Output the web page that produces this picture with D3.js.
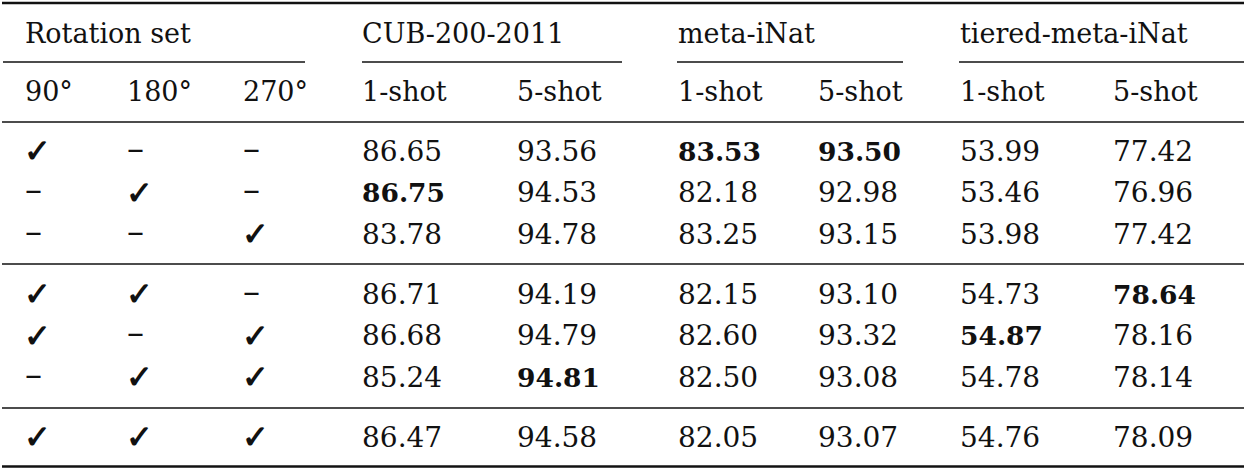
<!DOCTYPE html>
<html>
<head>
<meta charset="utf-8">
<script src="https://cdn.jsdelivr.net/npm/d3@7"></script>
<style>
  body { margin: 0; background: #fff; }
  text { font-family: "DejaVu Serif", serif; fill: #111; }
</style>
</head>
<body>
<div id="table"></div>
<script>
// rotation set per row (1 = used)
const rot90  = [1, 0, 0, 1, 1, 0, 1]
const rot180 = [0, 1, 0, 1, 0, 1, 1]
const rot270 = [0, 0, 1, 0, 1, 1, 1]
const rowGroup = [0, 0, 0, 1, 1, 1, 2]

const datasets = ["CUB-200-2011", "meta-iNat", "tiered-meta-iNat"]
const shots = ["1-shot", "5-shot"]
const angles = ["90°", "180°", "270°"]

const cub1 = [86.65, 86.75, 83.78, 86.71, 86.68, 85.24, 86.47]
const cub5 = [93.56, 94.53, 94.78, 94.19, 94.79, 94.81, 94.58]
const inat1 = [83.53, 82.18, 83.25, 82.15, 82.60, 82.50, 82.05]
const inat5 = [93.50, 92.98, 93.15, 93.10, 93.32, 93.08, 93.07]
const tiered1 = [53.99, 53.46, 53.98, 54.73, 54.87, 54.78, 54.76]
const tiered5 = [77.42, 76.96, 77.42, 78.64, 78.16, 78.14, 78.09]

const width = 1249, height = 473

const svg = d3.select("#table")
    .append("svg")
    .attr("width", width)
    .attr("height", height)

// column left edges
const colKeys = ["r90", "r180", "r270", "cub1", "cub5", "inat1", "inat5", "tiered1", "tiered5"]
const x = d3.scaleOrdinal()
    .domain(colKeys)
    .range([25, 127, 243, 362, 517, 678, 818, 960, 1113])

// row baselines: row index plus a little extra for each group break
const y = d3.scaleLinear()
    .domain([0, 1])
    .range([160.5, 202])

const rowSlot = (i) => i + rowGroup[i] * 0.45

const fontSize = 27

function rule(y0, x0, x1, w) {
    svg.append("line")
        .attr("x1", x0).attr("x2", x1)
        .attr("y1", y0).attr("y2", y0)
        .attr("stroke", "#111")
        .attr("stroke-width", w)
}

// booktabs style rules
rule(3, 2, 1244, 2.6)
rule(62, 3, 305, 1.6)
rule(62, 362, 622, 1.6)
rule(62, 677, 903, 1.6)
rule(62, 959, 1244, 1.6)
rule(122, 2, 1244, 1.6)
rule(264, 2, 1244, 1.6)
rule(408, 2, 1244, 1.6)
rule(466.5, 2, 1244, 2.6)

// header row
svg.append("text")
    .attr("x", x("r90"))
    .attr("y", 43)
    .attr("font-size", fontSize)
    .text("Rotation set")

svg.selectAll(".dataset")
    .data(datasets)
    .enter()
    .append("text")
    .attr("class", "dataset")
    .attr("x", (d, i) => x(colKeys[3 + i * 2]))
    .attr("y", 43)
    .attr("font-size", fontSize)
    .text(d => d)

// sub header
svg.selectAll(".angle")
    .data(angles)
    .enter()
    .append("text")
    .attr("class", "angle")
    .attr("x", (d, i) => x(colKeys[i]))
    .attr("y", 101)
    .attr("font-size", fontSize)
    .text(d => d)

const shotCols = d3.range(6).map(i => ({ key: colKeys[3 + i], label: shots[i % 2] }))
svg.selectAll(".shot")
    .data(shotCols)
    .enter()
    .append("text")
    .attr("class", "shot")
    .attr("x", d => x(d.key))
    .attr("y", 101)
    .attr("font-size", fontSize)
    .text(d => d.label)

// rotation marks
const rotCols = [["r90", rot90], ["r180", rot180], ["r270", rot270]]
rotCols.forEach(([key, vals]) => {
    svg.selectAll(".mark-" + key)
        .data(vals)
        .enter()
        .append("text")
        .attr("class", "mark-" + key)
        .attr("x", d => d ? x(key) - 1 : x(key))
        .attr("y", (d, i) => y(rowSlot(i)) + (d ? 1.5 : -1))
        .attr("font-family", d => d ? "DejaVu Sans" : "Liberation Serif")
        .attr("font-weight", d => d ? "bold" : "normal")
        .attr("font-size", d => d ? 32 : 34)
        .text(d => d ? "\u2713" : "\u2013")
})

// result columns, best value in bold
const resultCols = [
    ["cub1", cub1], ["cub5", cub5],
    ["inat1", inat1], ["inat5", inat5],
    ["tiered1", tiered1], ["tiered5", tiered5]
]
resultCols.forEach(([key, vals]) => {
    const best = d3.max(vals)
    svg.selectAll(".val-" + key)
        .data(vals)
        .enter()
        .append("text")
        .attr("class", "val-" + key)
        .attr("x", x(key))
        .attr("y", (d, i) => y(rowSlot(i)))
        .attr("font-size", d => d === best ? 26.5 : 28)
        .attr("font-weight", d => d === best ? "bold" : "normal")
        .text(d => d.toFixed(2))
})
</script>
</body>
</html>
